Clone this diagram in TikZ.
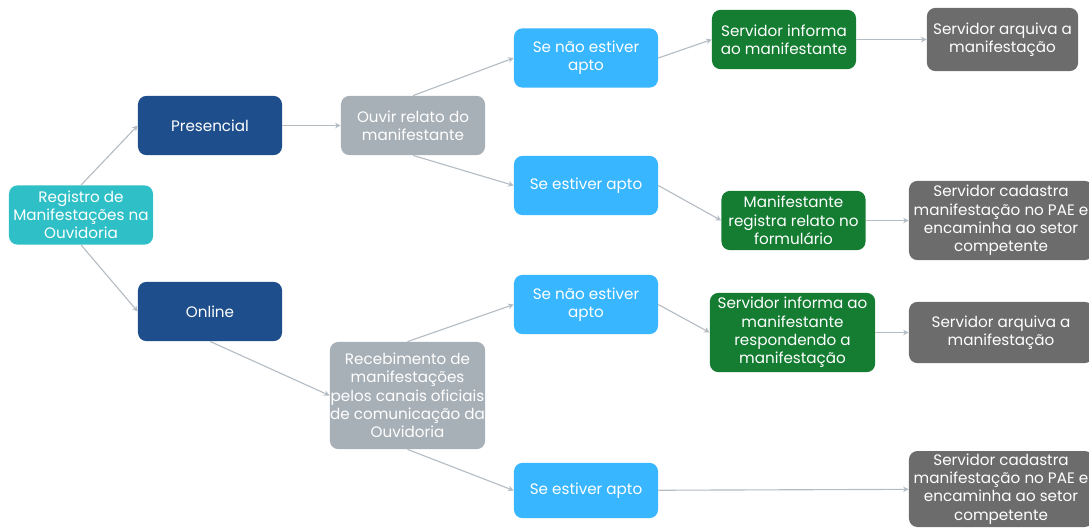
\documentclass[tikz,border=0pt]{standalone}
\usepackage{fontspec}
\setmainfont{Poppins}
\usetikzlibrary{positioning, arrows.meta}

\definecolor{turquesa}{RGB}{47,192,199}
\definecolor{azulescuro}{RGB}{31,78,140}
\definecolor{cinzaclaro}{RGB}{168,176,183}
\definecolor{azulceu}{RGB}{56,182,255}
\definecolor{verde}{RGB}{20,125,50}
\definecolor{cinzaescuro}{RGB}{108,108,108}
\definecolor{cinzaseta}{RGB}{180,188,196}

\begin{document}
\begin{tikzpicture}[x=0.025cm,y=-0.025cm,
    caixa/.style={rounded corners=6pt, text=white, align=center, inner sep=2pt,
        minimum width=3.6cm, minimum height=1.48cm,
        font=\fontsize{10.8}{13}\selectfont},
    seta/.style={draw=cinzaseta, line width=0.8pt, -{Stealth[length=4pt,width=4pt]}}]

\useasboundingbox (0,0) rectangle (1089,527);
\clip (0,0) rectangle (1089,527);

% Raiz
\node[caixa, fill=turquesa] (registro) at (81,215) {Registro de\\Manifestações na\\Ouvidoria};

% Canais
\node[caixa, fill=azulescuro] (presencial) at (210,125.5) {Presencial};
\node[caixa, fill=azulescuro] (online) at (210,311.5) {Online};

% Ramo presencial
\node[caixa, fill=cinzaclaro] (ouvir) at (413,125.5) {Ouvir relato do\\manifestante};
\node[caixa, fill=azulceu] (naoapto1) at (586,58) {Se não estiver\\apto};
\node[caixa, fill=azulceu] (apto1) at (586,185.5) {Se estiver apto};
\node[caixa, fill=verde] (informa1) at (784,39.5) {Servidor informa\\ao manifestante};
\node[caixa, fill=cinzaescuro, minimum width=3.78cm, minimum height=1.58cm] (arquiva1) at (1002.5,39.5) {Servidor arquiva a\\manifestação};
\node[caixa, fill=verde] (registra) at (793.5,220.5) {Manifestante\\registra relato no\\formulário};
\node[caixa, fill=cinzaescuro, minimum width=4.6cm, minimum height=1.98cm] (cadastra1) at (1001,220.5) {Servidor cadastra\\manifestação no PAE e\\encaminha ao setor\\competente};

% Ramo online
\node[caixa, fill=cinzaclaro, inner xsep=0pt, minimum width=3.88cm, minimum height=2.68cm] (recebimento) at (407.5,395.5) {Recebimento de\\manifestações\\pelos canais oficiais\\de comunicação da\\Ouvidoria};
\node[caixa, fill=azulceu] (naoapto2) at (586,304.5) {Se não estiver\\apto};
\node[caixa, fill=azulceu, minimum height=1.38cm] (apto2) at (586,490.5) {Se estiver apto};
\node[caixa, fill=verde, minimum width=4.13cm, minimum height=1.98cm] (informa2) at (792.5,332.5) {Servidor informa ao\\manifestante\\respondendo a\\manifestação};
\node[caixa, fill=cinzaescuro, minimum width=4.6cm, minimum height=1.53cm] (arquiva2) at (1001,332.5) {Servidor arquiva a\\manifestação};
\node[caixa, fill=cinzaescuro, minimum width=4.6cm, minimum height=1.9cm] (cadastra2) at (1001,489) {Servidor cadastra\\manifestação no PAE e\\encaminha ao setor\\competente};

% Conexoes
\draw[seta] (registro.north) -- (presencial.west);
\draw[seta] (registro.south) -- (online.west);
\draw[seta] (presencial) -- (ouvir);
\draw[seta] (ouvir.north) -- (naoapto1.west);
\draw[seta] (ouvir.south) -- (apto1.west);
\draw[seta] (naoapto1.east) -- (informa1.west);
\draw[seta] (informa1) -- (arquiva1);
\draw[seta] (apto1.east) -- (registra.west);
\draw[seta] (registra) -- (cadastra1);
\draw[seta] (online.south) -- (recebimento.west);
\draw[seta] (recebimento.north) -- (naoapto2.west);
\draw[seta] (recebimento.south) -- (apto2.west);
\draw[seta] (naoapto2.east) -- (informa2.west);
\draw[seta] (informa2) -- (arquiva2);
\draw[seta] (apto2) -- (cadastra2);

\end{tikzpicture}
\end{document}
